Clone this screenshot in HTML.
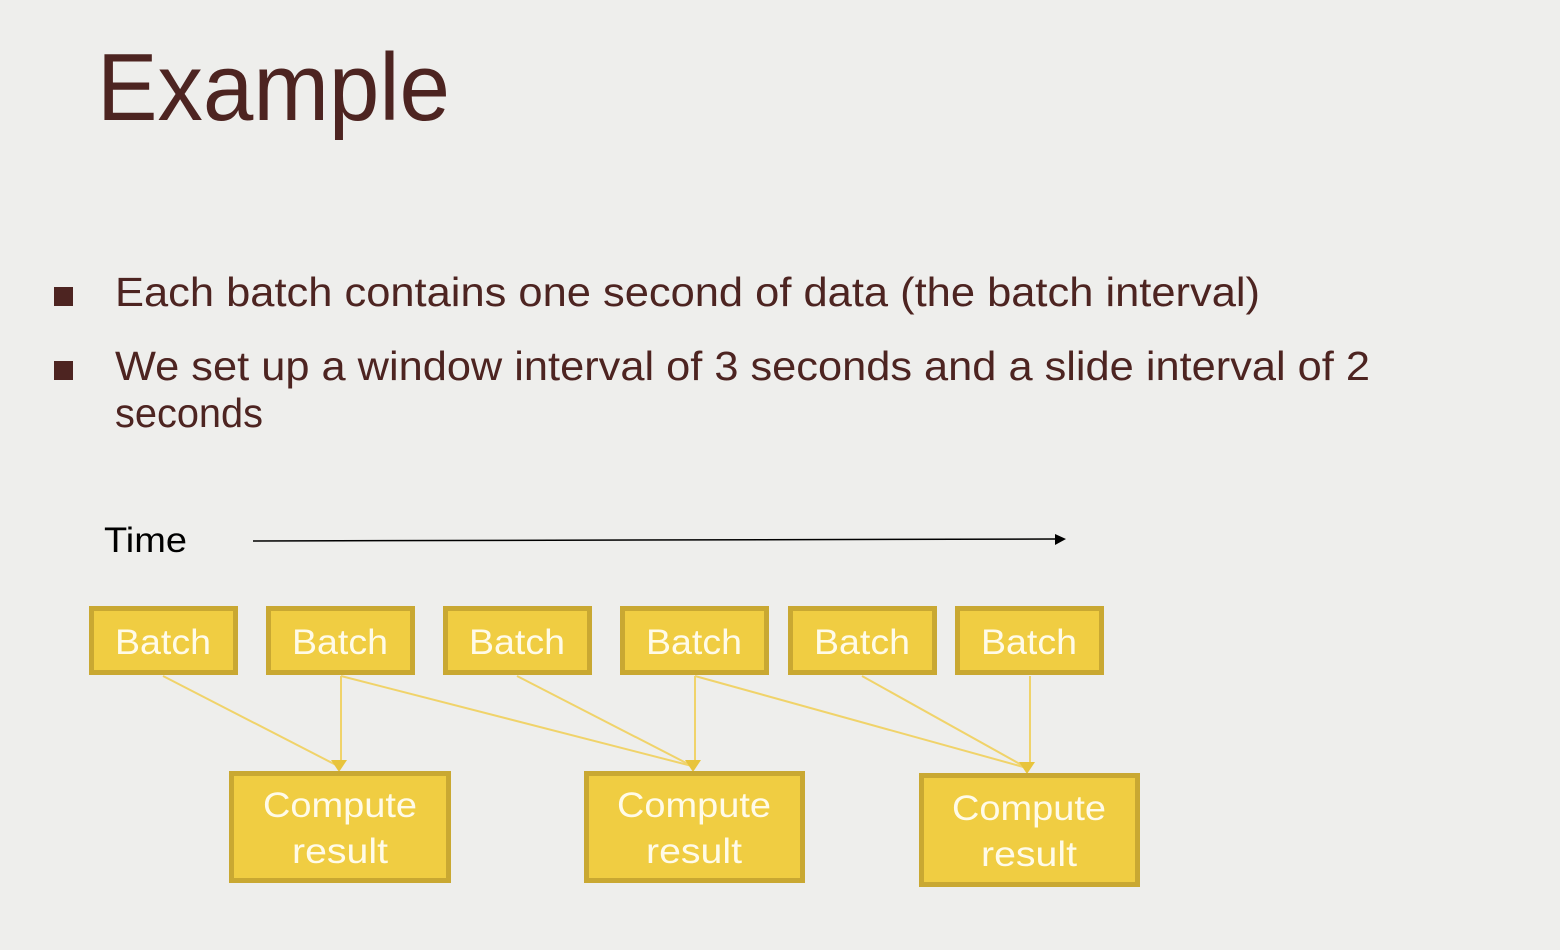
<!DOCTYPE html>
<html><head><meta charset="utf-8"><style>
html,body{margin:0;padding:0;background:#eeeeec;}
svg{display:block;}
text{font-family:"Liberation Sans",sans-serif;}
</style></head><body>
<svg width="1560" height="950" viewBox="0 0 1560 950" xmlns="http://www.w3.org/2000/svg">
<rect width="1560" height="950" fill="#eeeeec"/>
<text x="97" y="120" font-size="96" fill="#4d2421" textLength="353" lengthAdjust="spacingAndGlyphs">Example</text>
<rect x="54" y="287" width="19" height="19" fill="#4d2421"/>
<rect x="54" y="361" width="19" height="19" fill="#4d2421"/>
<g font-size="41" fill="#4d2421">
<text x="115" y="306" textLength="1145" lengthAdjust="spacingAndGlyphs">Each batch contains one second of data (the batch interval)</text>
<text x="115" y="380" textLength="1255" lengthAdjust="spacingAndGlyphs">We set up a window interval of 3 seconds and a slide interval of 2</text>
<text x="115" y="427" textLength="148" lengthAdjust="spacingAndGlyphs">seconds</text>
</g>
<text x="104" y="552" font-size="35" fill="#000" textLength="83" lengthAdjust="spacingAndGlyphs">Time</text>
<line x1="253" y1="541" x2="1056" y2="539" stroke="#000" stroke-width="1.5"/>
<polygon points="1066,539 1055,534 1055,545" fill="#000"/>
<g stroke="#f0d36a" stroke-width="2">
<line x1="163" y1="676" x2="338" y2="766"/>
<line x1="341" y1="676" x2="341" y2="766"/>
<line x1="341" y1="676" x2="692" y2="766"/>
<line x1="517" y1="676" x2="692" y2="766"/>
<line x1="695" y1="676" x2="695" y2="766"/>
<line x1="695" y1="676" x2="1027" y2="768"/>
<line x1="862" y1="676" x2="1027" y2="768"/>
<line x1="1030" y1="676" x2="1030" y2="768"/>
</g>
<g fill="#e8c43c">
<polygon points="331,760 347,760 339,772"/>
<polygon points="685,760 701,760 693,772"/>
<polygon points="1019,762 1035,762 1027,774"/>
</g>
<g fill="#f0cd42" stroke="#c9a832" stroke-width="5">
<rect x="91.5" y="608.5" width="144" height="64"/>
<rect x="268.5" y="608.5" width="144" height="64"/>
<rect x="445.5" y="608.5" width="144" height="64"/>
<rect x="622.5" y="608.5" width="144" height="64"/>
<rect x="790.5" y="608.5" width="144" height="64"/>
<rect x="957.5" y="608.5" width="144" height="64"/>
<rect x="231.5" y="773.5" width="217" height="107"/>
<rect x="586.5" y="773.5" width="216" height="107"/>
<rect x="921.5" y="775.5" width="216" height="109"/>
</g>
<g font-size="35" fill="#fffbe8" text-anchor="middle">
<text x="163" y="654" textLength="96" lengthAdjust="spacingAndGlyphs">Batch</text>
<text x="340" y="654" textLength="96" lengthAdjust="spacingAndGlyphs">Batch</text>
<text x="517" y="654" textLength="96" lengthAdjust="spacingAndGlyphs">Batch</text>
<text x="694" y="654" textLength="96" lengthAdjust="spacingAndGlyphs">Batch</text>
<text x="862" y="654" textLength="96" lengthAdjust="spacingAndGlyphs">Batch</text>
<text x="1029" y="654" textLength="96" lengthAdjust="spacingAndGlyphs">Batch</text>
<text x="340" y="817" textLength="154" lengthAdjust="spacingAndGlyphs">Compute</text>
<text x="340" y="863" textLength="96" lengthAdjust="spacingAndGlyphs">result</text>
<text x="694" y="817" textLength="154" lengthAdjust="spacingAndGlyphs">Compute</text>
<text x="694" y="863" textLength="96" lengthAdjust="spacingAndGlyphs">result</text>
<text x="1029" y="820" textLength="154" lengthAdjust="spacingAndGlyphs">Compute</text>
<text x="1029" y="866" textLength="96" lengthAdjust="spacingAndGlyphs">result</text>
</g>
</svg>
</body></html>
